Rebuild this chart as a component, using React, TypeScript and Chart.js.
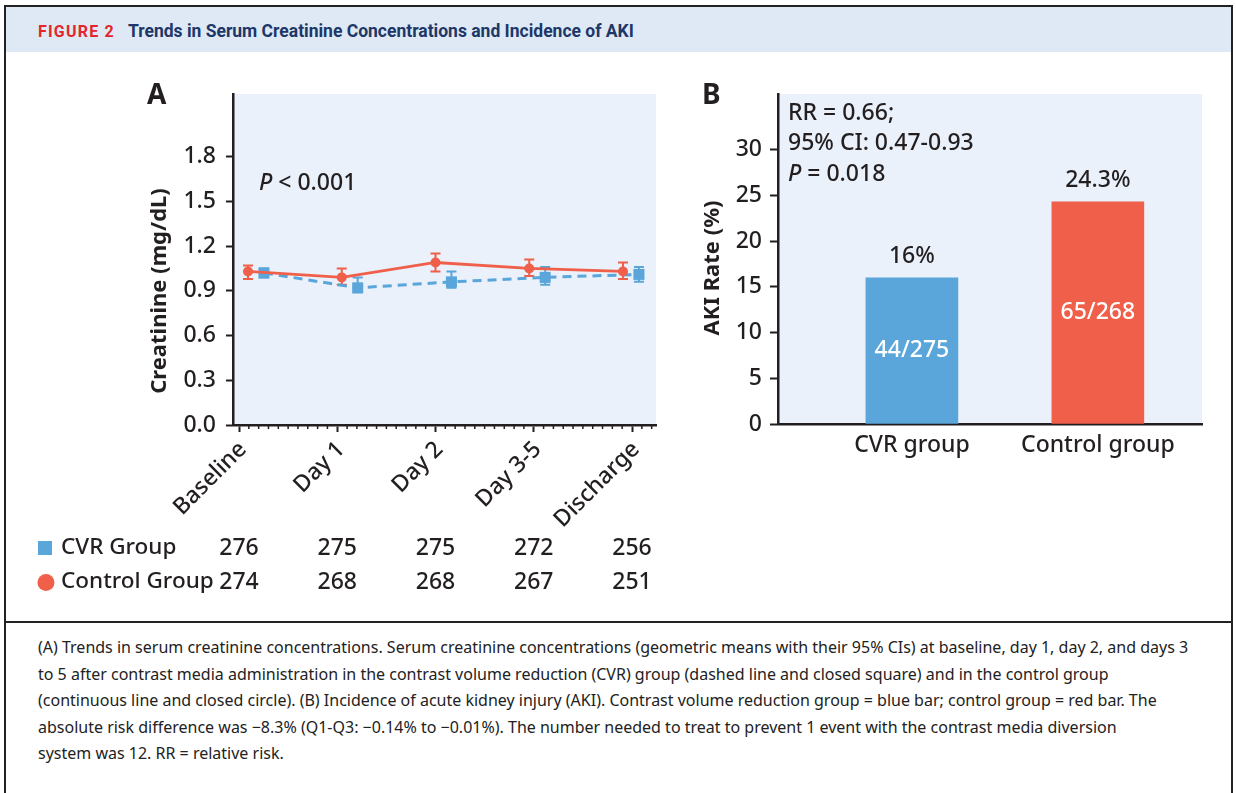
import React, { useEffect, useRef } from 'react';
import { Chart, registerables } from 'chart.js';

Chart.register(...registerables);

// ---------------- data ----------------
const TIMEPOINTS = ['Baseline', 'Day 1', 'Day 2', 'Day 3-5', 'Discharge'];
const CONTROL_MEAN = [1.03, 0.99, 1.09, 1.05, 1.03];
const CONTROL_LO = [0.98, 0.94, 1.03, 1.0, 0.98];
const CONTROL_HI = [1.07, 1.05, 1.15, 1.11, 1.09];
const CVR_MEAN = [1.02, 0.92, 0.96, 0.99, 1.01];
const CVR_LO = [0.99, 0.89, 0.92, 0.94, 0.96];
const CVR_HI = [1.05, 0.99, 1.03, 1.06, 1.06];
const CVR_N = [276, 275, 275, 272, 256];
const CONTROL_N = [274, 268, 268, 267, 251];
const CREAT_TICKS = [0, 0.3, 0.6, 0.9, 1.2, 1.5, 1.8];

const GROUPS = ['CVR group', 'Control group'];
const AKI_RATE = [16, 24.3];
const AKI_RATE_LABELS = ['16%', '24.3%'];
const AKI_COUNTS = ['44/275', '65/268'];
const AKI_TICKS = [0, 5, 10, 15, 20, 25, 30];

// ---------------- style ----------------
const FONT = '"Noto Sans", sans-serif';
const W = 500;
const INK = '#231f20';
const BLUE = '#5aa5da';
const RED = '#f05f4a';
const PLOT_BG = '#eaf1fa';

// x placement in panel A (axis units)
const CVR_SHIFT = 0.17;
const TICK_START = -0.096;
const TICK_STEP = 1.048;

function fillPlotBg(chart: any) {
  const { ctx, chartArea } = chart;
  ctx.save();
  ctx.fillStyle = PLOT_BG;
  ctx.fillRect(chartArea.left, chartArea.top, chartArea.right - chartArea.left, chartArea.bottom - chartArea.top);
  ctx.restore();
}

function PanelA() {
  const ref = useRef<HTMLCanvasElement>(null);
  useEffect(() => {
    const canvas = ref.current!;
    const tickValues = TIMEPOINTS.map((_, i) => TICK_START + TICK_STEP * i);
    const deco = {
      id: 'decoA',
      beforeDraw(chart: any) {
        fillPlotBg(chart);
      },
      beforeDatasetsDraw(chart: any) {
        const { ctx } = chart;
        const y = chart.scales.y;
        const sets = [
          { idx: 0, lo: CONTROL_LO, hi: CONTROL_HI, color: RED },
          { idx: 1, lo: CVR_LO, hi: CVR_HI, color: BLUE },
        ];
        ctx.save();
        for (const s of sets) {
          const meta = chart.getDatasetMeta(s.idx);
          ctx.strokeStyle = s.color;
          ctx.lineWidth = 2;
          meta.data.forEach((pt: any, i: number) => {
            const yl = y.getPixelForValue(s.lo[i]);
            const yh = y.getPixelForValue(s.hi[i]);
            ctx.beginPath();
            ctx.moveTo(pt.x, yl);
            ctx.lineTo(pt.x, yh);
            ctx.moveTo(pt.x - 5, yl);
            ctx.lineTo(pt.x + 5, yl);
            ctx.moveTo(pt.x - 5, yh);
            ctx.lineTo(pt.x + 5, yh);
            ctx.stroke();
          });
        }
        ctx.restore();
      },
      afterDraw(chart: any) {
        const { ctx, chartArea } = chart;
        const x = chart.scales.x;
        const L = chartArea.left;
        const T = chartArea.top;
        ctx.save();
        // minor ticks
        ctx.strokeStyle = INK;
        ctx.lineWidth = 1.5;
        const minor = TICK_STEP / 10;
        for (let k = -20; k <= 60; k++) {
          if (k % 10 === 0) continue;
          const v = TICK_START + k * minor;
          if (v <= x.min + 0.02 || v > x.max) continue;
          const px = x.getPixelForValue(v);
          ctx.beginPath();
          ctx.moveTo(px, chartArea.bottom);
          ctx.lineTo(px, chartArea.bottom + 4);
          ctx.stroke();
        }
        ctx.fillStyle = INK;
        // panel letter
        ctx.font = `bold 28px ${FONT}`;
        ctx.textAlign = 'left';
        ctx.textBaseline = 'middle';
        ctx.fillText('A', L - 86, T + 2);
        // y title
        ctx.save();
        ctx.translate(L - 73, T + 197);
        ctx.rotate(-Math.PI / 2);
        ctx.font = `bold 22px ${FONT}`;
        ctx.textAlign = 'center';
        ctx.fillText('Creatinine (mg/dL)', 0, 0);
        ctx.restore();
        // P value
        ctx.font = `italic ${W} 23px ${FONT}`;
        ctx.textAlign = 'left';
        ctx.fillText('P', L + 26, T + 89);
        const pw = ctx.measureText('P').width;
        ctx.font = `${W} 23px ${FONT}`;
        ctx.fillText(' < 0.001', L + 26 + pw, T + 89);
        // legend table
        const r1 = chartArea.bottom + 123;
        const r2 = chartArea.bottom + 157;
        ctx.fillStyle = BLUE;
        ctx.fillRect(L - 195, r1 - 7, 14, 14);
        ctx.fillStyle = RED;
        ctx.beginPath();
        ctx.arc(L - 187, r2 + 0.5, 8.5, 0, Math.PI * 2);
        ctx.fill();
        ctx.fillStyle = INK;
        ctx.font = `${W} 22.5px ${FONT}`;
        ctx.textAlign = 'left';
        ctx.fillText('CVR Group', L - 172, r1);
        ctx.fillText('Control Group', L - 172, r2);
        ctx.font = `${W} 23px ${FONT}`;
        ctx.textAlign = 'center';
        tickValues.forEach((v, i) => {
          const px = x.getPixelForValue(v);
          ctx.fillText(String(CVR_N[i]), px, r1);
          ctx.fillText(String(CONTROL_N[i]), px, r2);
        });
        ctx.restore();
      },
    };

    const chart = new Chart(canvas, {
      type: 'line',
      data: {
        datasets: [
          {
            label: 'Control Group',
            data: CONTROL_MEAN.map((v, i) => ({ x: i, y: v })),
            borderColor: RED,
            backgroundColor: RED,
            borderWidth: 2.8,
            pointStyle: 'circle',
            pointRadius: 5,
            pointBackgroundColor: RED,
            pointBorderWidth: 0,
            tension: 0,
          },
          {
            label: 'CVR Group',
            data: CVR_MEAN.map((v, i) => ({ x: i + CVR_SHIFT, y: v })),
            borderColor: BLUE,
            backgroundColor: BLUE,
            borderWidth: 3,
            borderDash: [9, 6],
            pointStyle: 'rect',
            pointRadius: 7.8,
            pointBackgroundColor: BLUE,
            pointBorderWidth: 0,
            tension: 0,
          },
        ],
      },
      options: {
        responsive: false,
        animation: false,
        events: [],
        layout: { padding: { top: 34, right: 24, left: 0, bottom: 0 } },
        plugins: { legend: { display: false }, tooltip: { enabled: false }, title: { display: false } },
        scales: {
          x: {
            type: 'linear',
            min: -0.16,
            max: 4.352,
            bounds: 'data',
            offset: false,
            afterBuildTicks: (s: any) => {
              s.ticks = tickValues.map((v) => ({ value: v }));
            },
            afterFit: (s: any) => {
              s.height = 185;
            },
            ticks: {
              autoSkip: false,
              minRotation: 45,
              maxRotation: 45,
              padding: 4,
              labelOffset: 4,
              color: INK,
              font: { family: FONT, size: 23, weight: W },
              callback: (_v: any, i: number) => TIMEPOINTS[i],
            },
            grid: { drawOnChartArea: false, drawTicks: true, tickLength: 7, tickWidth: 2, color: INK },
            border: { display: true, color: INK, width: 2.5 },
          },
          y: {
            type: 'linear',
            min: 0,
            max: 2.22,
            bounds: 'data',
            afterBuildTicks: (s: any) => {
              s.ticks = CREAT_TICKS.map((v) => ({ value: v }));
            },
            afterFit: (s: any) => {
              s.width = 213;
            },
            ticks: {
              padding: 10,
              color: INK,
              font: { family: FONT, size: 23, weight: W },
              callback: (v: any) => Number(v).toFixed(1),
            },
            grid: { drawOnChartArea: false, drawTicks: true, tickLength: 7, tickWidth: 2, color: INK },
            border: { display: true, color: INK, width: 2.5 },
          },
        },
      },
      plugins: [deco],
    } as any);
    return () => chart.destroy();
  }, []);
  return (
    <canvas
      ref={ref}
      width={660}
      height={550}
      style={{ position: 'absolute', left: 20, top: 60, width: 660, height: 550 }}
    />
  );
}

function PanelB() {
  const ref = useRef<HTMLCanvasElement>(null);
  useEffect(() => {
    const canvas = ref.current!;
    const deco = {
      id: 'decoB',
      beforeDraw(chart: any) {
        fillPlotBg(chart);
      },
      afterDraw(chart: any) {
        const { ctx, chartArea } = chart;
        const L = chartArea.left;
        const T = chartArea.top;
        ctx.save();
        ctx.fillStyle = INK;
        ctx.textBaseline = 'middle';
        ctx.font = `bold 28px ${FONT}`;
        ctx.textAlign = 'left';
        ctx.fillText('B', L - 76, T + 2);
        // y title
        ctx.save();
        ctx.translate(L - 65, T + 174);
        ctx.rotate(-Math.PI / 2);
        ctx.font = `bold 22px ${FONT}`;
        ctx.textAlign = 'center';
        ctx.fillText('AKI Rate (%)', 0, 0);
        ctx.restore();
        // stats
        ctx.font = `${W} 23px ${FONT}`;
        ctx.textAlign = 'left';
        ctx.fillText('RR = 0.66;', L + 10, T + 19);
        ctx.fillText('95% CI: 0.47-0.93', L + 10, T + 49);
        ctx.font = `italic ${W} 23px ${FONT}`;
        ctx.fillText('P', L + 10, T + 80);
        const pw = ctx.measureText('P').width;
        ctx.font = `${W} 23px ${FONT}`;
        ctx.fillText(' = 0.018', L + 10 + pw, T + 80);
        // bar labels
        const meta = chart.getDatasetMeta(0);
        ctx.textAlign = 'center';
        meta.data.forEach((bar: any, i: number) => {
          ctx.fillStyle = INK;
          ctx.fillText(AKI_RATE_LABELS[i], bar.x, bar.y - 21);
          ctx.fillStyle = '#ffffff';
          ctx.fillText(AKI_COUNTS[i], bar.x, (bar.y + bar.base) / 2);
        });
        ctx.restore();
      },
    };
    const chart = new Chart(canvas, {
      type: 'bar',
      data: {
        datasets: [
          {
            label: 'AKI rate',
            data: AKI_RATE.map((v, i) => ({ x: i + 1, y: v })),
            backgroundColor: [BLUE, RED],
            borderWidth: 0,
            barThickness: 92,
          },
        ],
      },
      options: {
        responsive: false,
        animation: false,
        events: [],
        layout: { padding: { top: 34, right: 28, left: 0, bottom: 0 } },
        plugins: { legend: { display: false }, tooltip: { enabled: false }, title: { display: false } },
        scales: {
          x: {
            type: 'linear',
            min: 0.28,
            max: 2.56,
            bounds: 'data',
            offset: false,
            afterBuildTicks: (s: any) => {
              s.ticks = GROUPS.map((_, i) => ({ value: i + 1 }));
            },
            afterFit: (s: any) => {
              s.height = 56;
            },
            ticks: {
              autoSkip: false,
              maxRotation: 0,
              minRotation: 0,
              padding: 8,
              color: INK,
              font: { family: FONT, size: 23, weight: W },
              callback: (_v: any, i: number) => GROUPS[i],
            },
            grid: { display: true, drawOnChartArea: false, drawTicks: false, offset: false, color: INK },
            border: { display: true, color: INK, width: 2.5 },
          },
          y: {
            type: 'linear',
            min: 0,
            max: 36.1,
            bounds: 'data',
            afterBuildTicks: (s: any) => {
              s.ticks = AKI_TICKS.map((v) => ({ value: v }));
            },
            afterFit: (s: any) => {
              s.width = 98;
            },
            ticks: {
              padding: 8,
              color: INK,
              font: { family: FONT, size: 23, weight: W },
              callback: (v: any) => String(v),
            },
            grid: { drawOnChartArea: false, drawTicks: true, tickLength: 8, tickWidth: 2, color: INK },
            border: { display: true, color: INK, width: 2.5 },
          },
        },
      },
      plugins: [deco],
    } as any);
    return () => chart.destroy();
  }, []);
  return (
    <canvas
      ref={ref}
      width={550}
      height={420}
      style={{ position: 'absolute', left: 680, top: 60, width: 550, height: 420 }}
    />
  );
}

const CAPTION_LINES = [
  '(A) Trends in serum creatinine concentrations. Serum creatinine concentrations (geometric means with their 95% CIs) at baseline, day 1, day 2, and days 3',
  'to 5 after contrast media administration in the contrast volume reduction (CVR) group (dashed line and closed square) and in the control group',
  '(continuous line and closed circle). (B) Incidence of acute kidney injury (AKI). Contrast volume reduction group = blue bar; control group = red bar. The',
  'absolute risk difference was \u22128.3% (Q1-Q3: \u22120.14% to \u22120.01%). The number needed to treat to prevent 1 event with the contrast media diversion',
  'system was 12. RR = relative risk.',
];

export default function App() {
  return (
    <div
      style={{
        position: 'fixed',
        left: 0,
        top: 0,
        width: 1236,
        height: 793,
        background: '#ffffff',
        overflow: 'hidden',
        fontFamily: FONT,
      }}
    >
      {/* frame */}
      <div
        style={{
          position: 'absolute',
          left: 4,
          top: 5,
          width: 1225,
          height: 820,
          border: '2px solid #222222',
        }}
      />
      {/* header band */}
      <div
        style={{
          position: 'absolute',
          left: 6,
          top: 7,
          width: 1225,
          height: 45,
          background: '#dfe9f5',
        }}
      />
      <div
        style={{
          position: 'absolute',
          left: 38,
          top: 19,
          height: 24,
          lineHeight: '24px',
          whiteSpace: 'nowrap',
          fontFamily: 'Roboto, sans-serif',
          fontWeight: 700,
        }}
      >
        <span style={{ color: '#e3262b', fontSize: 16, letterSpacing: 1.2 }}>FIGURE 2</span>
        <span style={{ color: '#1c3768', fontSize: 17.5, marginLeft: 13 }}>
          Trends in Serum Creatinine Concentrations and Incidence of AKI
        </span>
      </div>
      <PanelA />
      <PanelB />
      {/* separator */}
      <div style={{ position: 'absolute', left: 4, top: 621, width: 1229, height: 2, background: '#222222' }} />
      {CAPTION_LINES.map((line, i) => (
        <div
          key={i}
          style={{
            position: 'absolute',
            left: 38,
            top: 647 + i * 26.5 - 11,
            height: 22,
            lineHeight: '22px',
            fontSize: 16,
            color: '#222222',
            whiteSpace: 'nowrap',
            fontFamily: FONT,
          }}
        >
          {line}
        </div>
      ))}
    </div>
  );
}
